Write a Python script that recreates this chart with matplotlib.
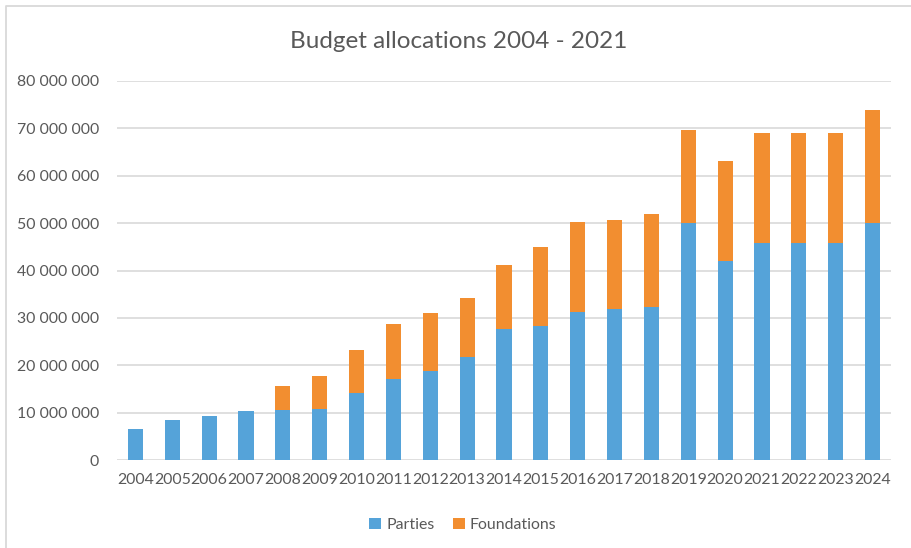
import matplotlib
matplotlib.use("Agg")
import matplotlib.pyplot as plt
from matplotlib.lines import Line2D
from matplotlib.patches import Patch
from matplotlib.ticker import FuncFormatter, MultipleLocator

# ── Data (millions) ──────────────────────────────────────────────────────────
years = [str(y) for y in range(2004, 2025)]
parties = [6.5, 8.4, 9.3, 10.3, 10.5, 10.7, 14.1, 17.2, 18.7, 21.7, 27.6,
           28.3, 31.3, 31.9, 32.3, 50.0, 42.0, 45.9, 45.9, 45.9, 50.0]
foundations = [0, 0, 0, 0, 5.1, 7.0, 9.1, 11.6, 12.4, 12.5, 13.6,
               16.7, 18.9, 18.8, 19.6, 19.6, 21.1, 23.1, 23.1, 23.1, 23.9]
parties = [v * 1e6 for v in parties]
foundations = [v * 1e6 for v in foundations]

BLUE = "#55A3D9"
ORANGE = "#F28E30"
GREY_TXT = "#595959"
GRID = "#D9D9D9"

plt.rcParams['font.family'] = ['Lato', 'DejaVu Sans']

fig = plt.figure(figsize=(9.12, 5.48), dpi=100)
ax = fig.add_axes([117 / 912, 1 - 460 / 548, (891 - 117) / 912, (460 - 81) / 548])

x = range(len(years))
ax.bar(x, parties, width=0.41, color=BLUE, linewidth=0, zorder=3)
ax.bar(x, foundations, width=0.41, bottom=parties, color=ORANGE,
       linewidth=0, zorder=3)

ax.set_xlim(-0.5, len(years) - 0.5)
ax.set_ylim(0, 80e6)
ax.yaxis.set_major_locator(MultipleLocator(10e6))
ax.yaxis.set_major_formatter(FuncFormatter(lambda v, _: f"{v:,.0f}".replace(",", " ")))
ax.set_xticks(list(x))
ax.set_xticklabels(years)
ax.grid(axis='y', color=GRID, linewidth=1.2, zorder=0)
ax.tick_params(axis='both', length=0, labelsize=11.4, colors=GREY_TXT)
ax.tick_params(axis='y', pad=13)
ax.tick_params(axis='x', pad=9)
for s in ax.spines.values():
    s.set_visible(False)

fig.text(459 / 912, 1 - 42 / 548, "Budget allocations 2004 - 2021",
         ha='center', va='center', fontsize=17.5, color=GREY_TXT)

handles = [Patch(facecolor=BLUE), Patch(facecolor=ORANGE)]
fig.legend(handles, ["Parties", "Foundations"], loc='center',
           bbox_to_anchor=(463 / 912, 1 - 525 / 548), ncol=2, frameon=False,
           fontsize=11.4, labelcolor=GREY_TXT, handlelength=0.75,
           handleheight=0.75, handletextpad=0.3, columnspacing=1.2)

# chart border (top and left edges visible)
fig.add_artist(Line2D([6 / 912, 6 / 912, 1], [0, 1 - 6 / 548, 1 - 6 / 548],
                      transform=fig.transFigure, color=GRID, linewidth=1.3))

fig.savefig("out.png", dpi=100)
